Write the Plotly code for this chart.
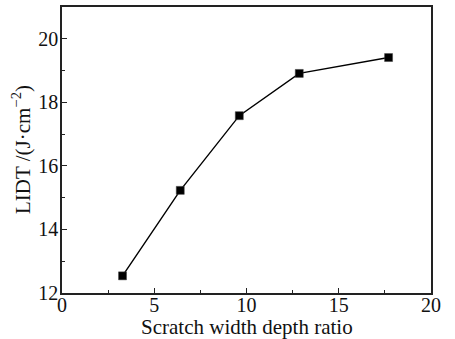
import plotly.graph_objects as go

# Laser-induced damage threshold vs. scratch width/depth ratio
ratio = [3.28, 6.41, 9.61, 12.86, 17.70]
lidt = [12.54, 15.23, 17.58, 18.91, 19.41]

x_ticks = [0, 5, 10, 15, 20]
y_ticks = [12, 14, 16, 18, 20]

font_family = "Liberation Serif"
font_size = 20
text_color = "#111111"

fig = go.Figure()
fig.add_trace(go.Scatter(
    x=ratio, y=lidt,
    mode="lines+markers",
    line=dict(color="black", width=1.4),
    marker=dict(symbol="square", size=8, color="black",
                line=dict(color="#444444", width=0.5)),
    showlegend=False,
))

axis_common = dict(
    showgrid=False, zeroline=False, automargin=False,
    showline=True, linecolor="#222222", linewidth=1.5, mirror=True,
    ticks="inside", ticklen=5, tickwidth=1.2, tickcolor="#222222",
    tickfont=dict(family=font_family, size=font_size, color=text_color),
)

fig.update_xaxes(
    range=[0, 20], tickvals=x_ticks, ticklabelstandoff=-7,
    minor=dict(ticks="inside", ticklen=3, tickwidth=1, tickcolor="#222222", dtick=2.5, tick0=0),
    **axis_common,
)
fig.update_yaxes(
    range=[12, 21], tickvals=y_ticks, ticklabelstandoff=-2,
    minor=dict(ticks="inside", ticklen=3, tickwidth=1, tickcolor="#222222", dtick=1, tick0=12),
    **axis_common,
)

# Axis titles placed in paper coordinates so the margins stay fixed
fig.add_annotation(
    text="Scratch width depth ratio", xref="paper", yref="paper",
    x=0.5, y=0, yshift=-34, xanchor="center", yanchor="middle", showarrow=False,
    font=dict(family=font_family, size=font_size + 1, color=text_color),
)
fig.add_annotation(
    text="LIDT /(J·cm<sup>−2</sup>)", xref="paper", yref="paper",
    x=0, y=0.5, xshift=-41, xanchor="center", yanchor="middle", textangle=-90,
    showarrow=False,
    font=dict(family=font_family, size=font_size + 1, color=text_color),
)

fig.update_layout(
    width=455, height=339,
    margin=dict(l=62, r=24, t=7, b=46),
    plot_bgcolor="white", paper_bgcolor="white",
)

fig.write_html("out.html")
